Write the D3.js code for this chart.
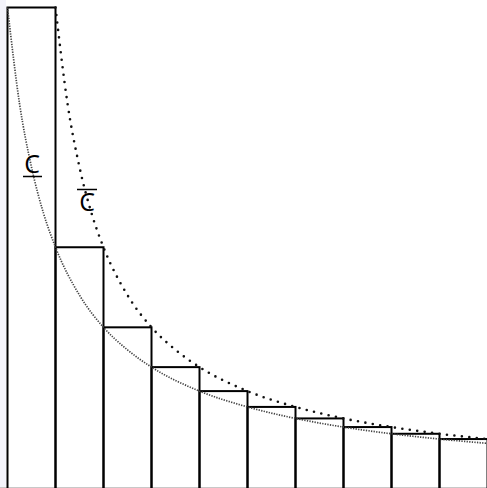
<!DOCTYPE html>
<html><head><meta charset="utf-8">
<script src="https://cdn.jsdelivr.net/npm/d3@7"></script>
<style>html,body{margin:0;padding:0;background:#fff;}svg{display:block;}</style>
</head><body>
<script>
// bar k spans [k, k+1] with height 1/k
const barStarts = [1,2,3,4,5,6,7,8,9,10];
const barHeights = [1, 0.5, 0.333, 0.25, 0.2, 0.167, 0.143, 0.125, 0.111, 0.1];
// lower dotted curve (through the upper-left corners)
const lowerX = [1, 1.25, 1.5, 1.75, 2, 2.5, 3, 3.5, 4, 5, 6, 7, 8, 9, 10, 11];
const lowerY = [1, 0.8, 0.667, 0.571, 0.5, 0.4, 0.333, 0.286, 0.25, 0.2, 0.167, 0.143, 0.125, 0.111, 0.1, 0.091];
// upper dotted curve (through the upper-right corners)
const upperX = [2, 2.25, 2.5, 2.75, 3, 3.5, 4, 4.5, 5, 6, 7, 8, 9, 10, 11];
const upperY = [1, 0.8, 0.667, 0.571, 0.5, 0.4, 0.333, 0.286, 0.25, 0.2, 0.167, 0.143, 0.125, 0.111, 0.1];
const labels = ["C", "C"];

const W = 487, H = 488;
const svg = d3.select("body").append("svg").attr("width", W).attr("height", H);
svg.append("rect").attr("x",0).attr("y",0).attr("width",6).attr("height",H).attr("fill","#f4f4fb");

const x = d3.scaleLinear().domain([1, 11]).range([7.5, 487.5]);
const y = d3.scaleLinear().domain([0, 1]).range([487, 7.5]);

svg.append("line").attr("x1",0).attr("x2",W).attr("y1",487.5).attr("y2",487.5)
  .attr("stroke","#c8c8c8").attr("stroke-width",1);

svg.append("g").selectAll("rect").data(barStarts).join("rect")
  .attr("x", d => x(d))
  .attr("y", (d,i) => y(barHeights[i]))
  .attr("width", d => x(d+1) - x(d))
  .attr("height", (d,i) => y(0) - y(barHeights[i]) + 4)
  .attr("fill", "none").attr("stroke", "#000").attr("stroke-width", 2);

const line = d3.line().x(d => x(d[0])).y(d => y(d[1])).curve(d3.curveMonotoneX);

svg.append("path").datum(lowerX.map((v,i)=>[v, lowerY[i]]))
  .attr("d", line).attr("fill","none").attr("stroke","#444")
  .attr("stroke-width",1.7).attr("stroke-dasharray","1.3,1.3");

svg.append("path").datum(upperX.map((v,i)=>[v, upperY[i]]))
  .attr("d", line).attr("fill","none").attr("stroke","#111")
  .attr("stroke-width",2.6).attr("stroke-linecap","round").attr("stroke-dasharray","0,7.5");

const font = "'Open Sans', sans-serif";
// underlined C
svg.append("text").attr("x", 32).attr("y", 173).attr("text-anchor","middle")
  .attr("font-family", font).attr("font-size", 25).attr("fill","#000").text(labels[0]);
svg.append("line").attr("x1",23).attr("x2",42).attr("y1",176.5).attr("y2",176.5)
  .attr("stroke","#000").attr("stroke-width",1.5);
// overlined C
svg.append("text").attr("x", 87).attr("y", 211).attr("text-anchor","middle")
  .attr("font-family", font).attr("font-size", 25).attr("fill","#000").text(labels[1]);
svg.append("line").attr("x1",77).attr("x2",97).attr("y1",189.5).attr("y2",189.5)
  .attr("stroke","#000").attr("stroke-width",1.5);
</script>
</body></html>
